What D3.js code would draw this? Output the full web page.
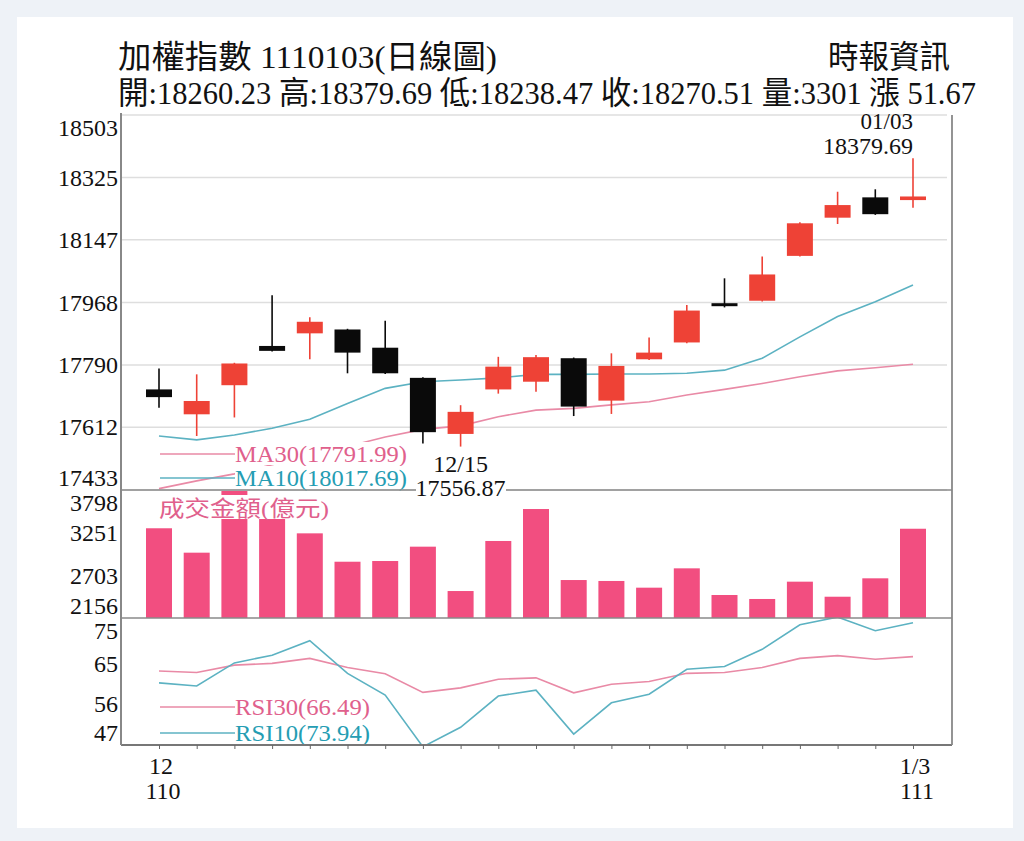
<!DOCTYPE html>
<html>
<head>
<meta charset="utf-8">
<script src="https://cdn.jsdelivr.net/npm/d3@7"></script>
<style>
  html, body { margin: 0; padding: 0; background: #eef2f7; }
  svg { display: block; }
  text { font-family: "Liberation Serif", "Noto Sans CJK TC", serif; }
</style>
</head>
<body>
<svg id="chart" width="1024" height="841"></svg>
<script>
// trading days, 110/12/03 .. 111/01/03
const dates = ['12/03','12/06','12/07','12/08','12/09','12/10','12/13','12/14','12/15','12/16','12/17',
  '12/20','12/21','12/22','12/23','12/24','12/27','12/28','12/29','12/30','01/03'];

const openP  = [17720,17649,17732,17844,17880,17891,17839,17753,17593,17720,17742,17809,17688,17806,17854,17966,17973,18101,18210,18268,18260.23];
const highP  = [17780,17763,17796,17989,17926,17893,17916,17755,17675,17813,17818,17811,17823,17868,17961,18037,18099,18197,18284,18291,18379.69];
const lowP   = [17668,17587,17640,17828,17806,17766,17764,17566,17556.87,17708,17713,17644,17650,17804,17852,17954,17971,18099,18192,18218,18238.47];
const closeP = [17698,17687,17794,17830,17913,17825,17766,17598,17656,17785,17812,17671,17787,17825,17945,17961,18048,18194,18246,18220,18270.51];

const ma10 = [17587,17576,17590,17609,17635,17680,17723,17742,17747,17753,17763,17763,17764,17764,17766,17775,17809,17870,17928,17970,18017.69];
const ma30 = [17437,17459,17479,17505,17531,17557,17584,17606,17616,17642,17661,17666,17676,17685,17704,17720,17737,17756,17773,17782,17791.99];

// 成交金額(億元)
const volume = [3307,2994,3785,3620,3242,2878,2887,3071,2502,3144,3554,2643,2631,2545,2793,2451,2400,2622,2429,2665,3301];

const rsi30 = [63.3,63.0,64.6,65.0,66.1,64.1,62.7,58.6,59.6,61.5,61.8,58.5,60.4,61.0,62.8,63.0,64.1,66.1,66.7,65.9,66.49];
const rsi10 = [60.7,60.0,65.1,66.8,70.0,62.8,58.0,46.6,50.9,57.8,59.1,49.4,56.3,58.2,63.7,64.3,68.1,73.5,75.2,72.2,73.94];

const priceTicks = [18503,18325,18147,17968,17790,17612,17433];
const volTicks = [3798,3251,2703,2156];
const rsiTicks = [75,65,56,47];

const xTickDates = ['12/03','01/03'];
const xTickMonth = ['12','1/3'];
const xTickYear = ['110','111'];

const titleText = '加權指數 1110103(日線圖)';
const sourceText = '時報資訊';
const quoteText = '開:18260.23 高:18379.69 低:18238.47 收:18270.51 量:3301 漲 51.67';

const RED = '#ee4236', BLACK = '#0a0a0a', PINK_BAR = '#f24e80';
const MA30_C = '#e98aa6', MA10_C = '#5cb2c2';
const MA30_T = '#e0608c', MA10_T = '#259db3';

const svg = d3.select('#chart');

// card
svg.append('rect').attr('x', 17).attr('y', 17).attr('width', 996).attr('height', 811).attr('fill', '#fff');

const L = 121, R = 952;
const pTop = 115, pBot = 490, vBot = 618, rBot = 745;

const x = d3.scalePoint().domain(dates).range([159, 913]);
const yP = d3.scaleLinear().domain([17433, 18503]).range([pBot, pTop]);
const yV = d3.scaleLinear().domain([2156, 3798]).range([vBot, pBot]);
const yR = d3.scaleLinear().domain([47, 75]).range([rBot, vBot]);

const defs = svg.append('defs');
defs.append('clipPath').attr('id', 'clipP').append('rect').attr('x', L).attr('y', pTop - 50).attr('width', R - L).attr('height', pBot - pTop + 50);
defs.append('clipPath').attr('id', 'clipR').append('rect').attr('x', L).attr('y', vBot).attr('width', R - L).attr('height', rBot - vBot);

// header
svg.append('text').attr('x', 118).attr('y', 68).attr('font-size', 32).attr('fill', '#111')
  .attr('textLength', 379).attr('lengthAdjust', 'spacingAndGlyphs').text(titleText);
svg.append('text').attr('x', 828).attr('y', 68).attr('font-size', 32).attr('fill', '#111')
  .attr('textLength', 122).attr('lengthAdjust', 'spacingAndGlyphs').text(sourceText);
svg.append('text').attr('x', 118).attr('y', 104).attr('font-size', 32).attr('fill', '#111')
  .attr('textLength', 858).attr('lengthAdjust', 'spacingAndGlyphs').text(quoteText);

// price grid
svg.append('g').selectAll('line').data(priceTicks).join('line')
  .attr('x1', L).attr('x2', 947).attr('y1', d => yP(d)).attr('y2', d => yP(d))
  .attr('stroke', '#dedede').attr('stroke-width', 1.5);

// y axes (labels only)
function labelAxis(scale, ticks, top, bot) {
  const g = svg.append('g').attr('transform', `translate(${L},0)`)
    .call(d3.axisLeft(scale).tickValues(ticks).tickSize(0).tickPadding(3).tickFormat(d3.format('d')));
  g.select('.domain').remove();
  g.selectAll('text')
    .attr('font-family', '"Liberation Serif", serif').attr('font-size', 24).attr('fill', '#111')
    .attr('y', d => Math.max(top + 13, Math.min(bot - 12, scale(d))) - scale(d));
}
labelAxis(yP, priceTicks, pTop, pBot);
labelAxis(yV, volTicks, pBot, vBot);
labelAxis(yR, rsiTicks, vBot, rBot);

// moving averages
const line = (arr, ys) => d3.line().x((d, i) => x(dates[i])).y(d => ys(d))(arr);
const gP = svg.append('g').attr('clip-path', 'url(#clipP)');
gP.append('path').attr('d', line(ma30, yP)).attr('fill', 'none').attr('stroke', MA30_C).attr('stroke-width', 1.6);
gP.append('path').attr('d', line(ma10, yP)).attr('fill', 'none').attr('stroke', MA10_C).attr('stroke-width', 1.6);

// candles
const idx = d3.range(dates.length);
const colorOf = i => closeP[i] >= openP[i] ? RED : BLACK;
const cw = 26;
gP.selectAll('line.wick').data(idx).join('line').attr('class', 'wick')
  .attr('x1', i => x(dates[i])).attr('x2', i => x(dates[i]))
  .attr('y1', i => yP(highP[i])).attr('y2', i => yP(lowP[i]))
  .attr('stroke', colorOf).attr('stroke-width', 1.6);
gP.selectAll('rect.body').data(idx).join('rect').attr('class', 'body')
  .attr('x', i => x(dates[i]) - cw / 2).attr('width', cw)
  .attr('y', i => yP(Math.max(openP[i], closeP[i])))
  .attr('height', i => Math.max(3, yP(Math.min(openP[i], closeP[i])) - yP(Math.max(openP[i], closeP[i]))))
  .attr('fill', colorOf);

// volume bars
svg.append('g').selectAll('rect').data(volume).join('rect')
  .attr('x', (d, i) => x(dates[i]) - cw / 2).attr('width', cw)
  .attr('y', d => yV(d)).attr('height', d => vBot - yV(d))
  .attr('fill', PINK_BAR);

// RSI
const gR = svg.append('g').attr('clip-path', 'url(#clipR)');
gR.append('path').attr('d', line(rsi30, yR)).attr('fill', 'none').attr('stroke', MA30_C).attr('stroke-width', 1.6);
gR.append('path').attr('d', line(rsi10, yR)).attr('fill', 'none').attr('stroke', MA10_C).attr('stroke-width', 1.6);

// legends with white boxes
function legend(ly, label, lc, tc, width) {
  svg.append('rect').attr('x', 235).attr('y', ly - 12).attr('width', width + 2).attr('height', 23).attr('fill', '#fff');
  svg.append('line').attr('x1', 160).attr('x2', 235).attr('y1', ly).attr('y2', ly).attr('stroke', lc).attr('stroke-width', 1.5);
  svg.append('text').attr('x', 235).attr('y', ly + 8).attr('font-size', 23).attr('fill', tc)
    .attr('textLength', width).attr('lengthAdjust', 'spacingAndGlyphs').text(label);
}
legend(454, 'MA30(' + d3.format('.2f')(ma30[ma30.length - 1]) + ')', MA30_C, MA30_T, 172);
legend(478, 'MA10(' + d3.format('.2f')(ma10[ma10.length - 1]) + ')', MA10_C, MA10_T, 172);
legend(707, 'RSI30(' + d3.format('.2f')(rsi30[rsi30.length - 1]) + ')', MA30_C, MA30_T, 135);
legend(733, 'RSI10(' + d3.format('.2f')(rsi10[rsi10.length - 1]) + ')', MA10_C, MA10_T, 135);

// panel frame
svg.append('line').attr('x1', L).attr('x2', R).attr('y1', pBot).attr('y2', pBot).attr('stroke', '#8a8a8a').attr('stroke-width', 1.6);
svg.append('line').attr('x1', L).attr('x2', R).attr('y1', vBot).attr('y2', vBot).attr('stroke', '#8a8a8a').attr('stroke-width', 1.6);
svg.append('line').attr('x1', L).attr('x2', R).attr('y1', rBot).attr('y2', rBot).attr('stroke', '#777').attr('stroke-width', 1.8);
svg.append('line').attr('x1', L).attr('x2', L).attr('y1', 113).attr('y2', rBot).attr('stroke', '#888').attr('stroke-width', 2);
svg.append('line').attr('x1', R).attr('x2', R).attr('y1', 115).attr('y2', rBot).attr('stroke', '#888').attr('stroke-width', 1.8);

// volume label
svg.append('rect').attr('x', 158).attr('y', 495).attr('width', 174).attr('height', 24).attr('fill', '#fff');
svg.append('text').attr('x', 159).attr('y', 516).attr('font-size', 22).attr('fill', MA30_T)
  .attr('font-family', '"Noto Sans CJK TC", sans-serif')
  .attr('textLength', 170).attr('lengthAdjust', 'spacingAndGlyphs').text('成交金額(億元)');

// low / high annotations
const iLow = d3.minIndex(lowP), iHigh = d3.maxIndex(highP);
svg.append('rect').attr('x', 416).attr('y', 476).attr('width', 90).attr('height', 22).attr('fill', '#fff');
svg.append('text').attr('x', x(dates[iLow])).attr('y', 472).attr('text-anchor', 'middle').attr('font-size', 24).attr('fill', '#111')
  .text(dates[iLow]);
svg.append('text').attr('x', x(dates[iLow])).attr('y', 496).attr('text-anchor', 'middle').attr('font-size', 24).attr('fill', '#111')
  .text(d3.format('.2f')(lowP[iLow]));
svg.append('text').attr('x', x(dates[iHigh])).attr('y', 129).attr('text-anchor', 'end').attr('font-size', 23).attr('fill', '#111')
  .text(dates[iHigh]);
svg.append('text').attr('x', x(dates[iHigh])).attr('y', 154).attr('text-anchor', 'end').attr('font-size', 24).attr('fill', '#111')
  .text(d3.format('.2f')(highP[iHigh]));

// x axis ticks
const gx = svg.append('g').attr('transform', `translate(0,${rBot})`)
  .call(d3.axisBottom(x).tickSize(4).tickFormat(''));
gx.select('.domain').remove();
gx.selectAll('line').attr('stroke', '#666');

svg.append('g').selectAll('text').data(xTickDates).join('text')
  .attr('x', d => x(d) + 2).attr('y', 774).attr('text-anchor', 'middle').attr('font-size', 24).attr('fill', '#111')
  .text((d, i) => xTickMonth[i]);
svg.append('g').selectAll('text').data(xTickDates).join('text')
  .attr('x', d => x(d) + 4).attr('y', 799).attr('text-anchor', 'middle').attr('font-size', 24).attr('fill', '#111')
  .text((d, i) => xTickYear[i]);
</script>
</body>
</html>
